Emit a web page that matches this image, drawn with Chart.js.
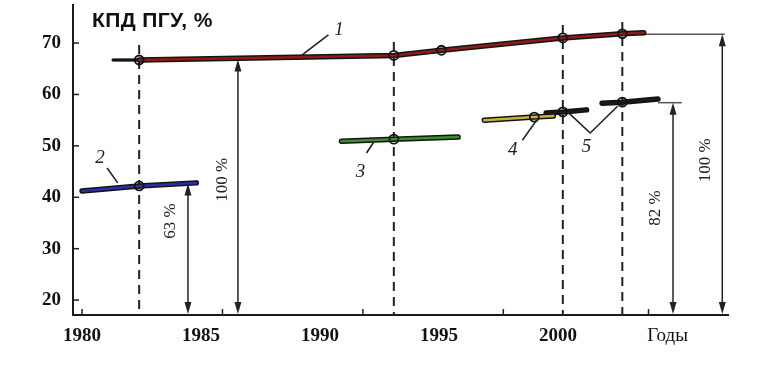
<!DOCTYPE html>
<html>
<head>
<meta charset="utf-8">
<script src="https://cdn.jsdelivr.net/npm/chart.js@4"></script>
<style>
  body { margin: 0; background: #fff; }
  #wrap { width: 773px; height: 367px; }
</style>
</head>
<body>
<div id="wrap"><canvas id="kpd" width="773" height="367"></canvas></div>
<script>
// ---- data (years, efficiency %) ----
const xTickValues = [1980, 1985, 1990, 1995, 2000, 2004.6];
const xTickLabels = ['1980', '1985', '1990', '1995', '2000', 'Годы'];
const xMarkYears = [1980, 1985.9, 1991.8, 1997.7, 2003.8];
const yTickValues = [20, 30, 40, 50, 60, 70];

// curve 1 - combined cycle plant efficiency
const years1 = [1981.3, 1982.4, 1993.1, 1995.1, 2000.2, 2002.7, 2003.6];
const kpd1 = [66.7, 66.7, 67.6, 68.6, 71.0, 71.8, 72.0];
const marks1 = [0, 1, 1, 1, 1, 1, 0];
// curves 2..5
const years2 = [1980.0, 1982.4, 1984.8];
const kpd2 = [41.2, 42.2, 42.8];
const years3 = [1990.9, 1993.1, 1995.8];
const kpd3 = [50.9, 51.3, 51.7];
const years4 = [1996.9, 1999.0, 1999.8];
const kpd4 = [55.0, 55.6, 55.8];
const years5a = [1999.5, 2000.2, 2001.2];
const kpd5a = [56.4, 56.6, 57.0];
const years5b = [2001.85, 2002.7, 2004.2];
const kpd5b = [58.3, 58.5, 59.1];
const marksMid = [0, 1, 0];

// dashed drop lines
const dropYears = [1982.4, 1993.1, 2000.2, 2002.7];
const dropTops = [69.6, 70.2, 73.5, 74.1];

// dimension arrows
const arrowYears = [1984.45, 1986.55, 2004.83, 2006.9];
const arrowTops = [42.7, 66.8, 58.4, 71.7];
const arrowLabels = ['63 %', '100 %', '82 %', '100 %'];
const arrowLabelYears = [1983.7, 1985.9, 2004.1, 2006.2];
const arrowLabelValues = [35.4, 43.4, 37.9, 47.2];
const extFrom = [2003.6, 2004.2];
const extTo = [2007.0, 2005.2];
const extLevel = [71.7, 58.4];

// curve numbers and their leaders
const curveNames = ['1', '2', '3', '4', '5'];
const nameYears = [1990.8, 1980.75, 1991.7, 1998.1, 2001.2];
const nameValues = [72.5, 47.6, 44.9, 49.2, 49.8];
const leaderYears = [[1989.25, 1990.35], [1981.05, 1981.5], [1991.95, 1992.25], [1998.5, 1999.1], [2000.4, 2001.35, 2002.5]];
const leaderValues = [[67.7, 71.6], [45.7, 42.8], [48.6, 50.7], [51.1, 55.0], [56.6, 52.5, 57.7]];

const SERIF = '"Liberation Serif", "DejaVu Serif", serif';
const SANS = '"Liberation Sans", Arial, sans-serif';

const toPoints = (xs, ys) => xs.map((v, i) => ({ x: v, y: ys[i] }));

function curve(xs, ys, core, marks, firstColor) {
  const pts = toPoints(xs, ys);
  const outline = {
    data: pts, order: 2, borderColor: '#141414', borderWidth: 5.5,
    pointRadius: 0, borderCapStyle: 'round', tension: 0
  };
  const inner = {
    data: pts, order: 1, borderColor: core, borderWidth: 2.5,
    pointRadius: marks.map(m => m ? 4.5 : 0),
    pointBackgroundColor: 'rgba(0,0,0,0)',
    pointBorderColor: '#111', pointBorderWidth: 1.8,
    borderCapStyle: 'round', tension: 0
  };
  if (firstColor) {
    outline.segment = { borderWidth: c => c.p0DataIndex === 0 ? 3 : 5.5 };
    inner.segment = { borderColor: c => c.p0DataIndex === 0 ? firstColor : core };
  }
  return [outline, inner];
}

const datasets = [].concat(
  curve(years1, kpd1, '#8e1b17', marks1, '#141414'),
  curve(years2, kpd2, '#2c2ca8', marksMid),
  curve(years3, kpd3, '#3b8f2b', marksMid),
  curve(years4, kpd4, '#c9b23a', marksMid),
  curve(years5a, kpd5a, '#1a1a1a', marksMid),
  curve(years5b, kpd5b, '#1a1a1a', marksMid)
);

function arrowHead(ctx, x, y, dir) {
  ctx.beginPath();
  ctx.moveTo(x, y);
  ctx.lineTo(x - 3.5, y + dir * 12);
  ctx.lineTo(x + 3.5, y + dir * 12);
  ctx.closePath();
  ctx.fill();
}

const overlay = {
  id: 'overlay',
  beforeDatasetsDraw(chart) {
    const { ctx, scales: { x, y } } = chart;
    ctx.save();
    ctx.strokeStyle = '#222';
    ctx.lineWidth = 2;
    ctx.setLineDash([9, 6]);
    dropYears.forEach((yr, i) => {
      const px = x.getPixelForValue(yr);
      ctx.beginPath();
      ctx.moveTo(px, y.getPixelForValue(dropTops[i]));
      ctx.lineTo(px, y.bottom);
      ctx.stroke();
    });
    ctx.setLineDash([]);
    // extension lines for the dimensions
    ctx.strokeStyle = '#555';
    ctx.lineWidth = 1.5;
    extFrom.forEach((yr, i) => {
      const py = y.getPixelForValue(extLevel[i]);
      ctx.beginPath();
      ctx.moveTo(x.getPixelForValue(yr), py);
      ctx.lineTo(x.getPixelForValue(extTo[i]), py);
      ctx.stroke();
    });
    ctx.restore();
  },
  afterDatasetsDraw(chart) {
    const { ctx, chartArea, scales: { x, y } } = chart;
    ctx.save();
    // dimension arrows
    ctx.strokeStyle = '#222';
    ctx.fillStyle = '#222';
    ctx.lineWidth = 1.5;
    arrowYears.forEach((yr, i) => {
      const px = x.getPixelForValue(yr);
      const top = y.getPixelForValue(arrowTops[i]);
      const bot = y.bottom - 1;
      ctx.beginPath();
      ctx.moveTo(px, top + 4);
      ctx.lineTo(px, bot - 4);
      ctx.stroke();
      arrowHead(ctx, px, top, 1);
      arrowHead(ctx, px, bot, -1);
    });
    ctx.font = '17px ' + SERIF;
    ctx.textAlign = 'center';
    ctx.textBaseline = 'middle';
    arrowLabels.forEach((t, i) => {
      ctx.save();
      ctx.translate(x.getPixelForValue(arrowLabelYears[i]), y.getPixelForValue(arrowLabelValues[i]));
      ctx.rotate(-Math.PI / 2);
      ctx.fillText(t, 0, 0);
      ctx.restore();
    });
    // leaders
    ctx.lineWidth = 1.6;
    leaderYears.forEach((xs, i) => {
      ctx.beginPath();
      xs.forEach((yr, j) => {
        const px = x.getPixelForValue(yr), py = y.getPixelForValue(leaderValues[i][j]);
        if (j === 0) ctx.moveTo(px, py); else ctx.lineTo(px, py);
      });
      ctx.stroke();
    });
    ctx.font = 'italic 19px ' + SERIF;
    curveNames.forEach((t, i) => {
      ctx.fillText(t, x.getPixelForValue(nameYears[i]), y.getPixelForValue(nameValues[i]));
    });
    // inner tick marks
    ctx.lineWidth = 1.5;
    yTickValues.forEach(v => {
      const py = y.getPixelForValue(v);
      ctx.beginPath();
      ctx.moveTo(chartArea.left, py);
      ctx.lineTo(chartArea.left + 6, py);
      ctx.stroke();
    });
    xMarkYears.forEach(v => {
      const px = x.getPixelForValue(v);
      ctx.beginPath();
      ctx.moveTo(px, chartArea.bottom);
      ctx.lineTo(px, chartArea.bottom - 6);
      ctx.stroke();
    });
    // axis title
    ctx.font = 'bold 21px ' + SANS;
    ctx.letterSpacing = '0.4px';
    ctx.textAlign = 'left';
    ctx.fillStyle = '#111';
    ctx.fillText('КПД ПГУ, %', chartArea.left + 19, chartArea.top + 16);
    ctx.restore();
  }
};

new Chart(document.getElementById('kpd'), {
  type: 'line',
  data: { datasets },
  options: {
    responsive: false,
    animation: false,
    layout: { padding: { top: 5, right: 45, left: 0, bottom: 0 } },
    plugins: { legend: { display: false }, tooltip: { enabled: false } },
    scales: {
      x: {
        type: 'linear', min: 1979.62, max: 2007.14,
        afterBuildTicks: s => { s.ticks = xTickValues.map(v => ({ value: v })); },
        afterFit: s => { s.height = 52; s.paddingLeft = 0; s.paddingRight = 0; },
        grid: { display: false, drawTicks: false },
        border: { display: true, color: '#1a1a1a', width: 2 },
        ticks: {
          autoSkip: false, maxRotation: 0, padding: 10, color: '#111',
          font: c => ({ family: SERIF, size: 19, weight: c.index === 5 ? 'normal' : 'bold' }),
          callback: (v, i) => xTickLabels[i]
        }
      },
      y: {
        type: 'linear', min: 17.1, max: 77.4,
        afterBuildTicks: s => { s.ticks = yTickValues.map(v => ({ value: v })); },
        afterFit: s => { s.width = 73; s.paddingTop = 0; s.paddingBottom = 0; },
        grid: { display: false, drawTicks: false },
        border: { display: true, color: '#1a1a1a', width: 2 },
        ticks: {
          padding: 12, color: '#111',
          font: { family: SERIF, size: 19, weight: 'bold' }
        }
      }
    }
  },
  plugins: [overlay]
});
</script>
</body>
</html>
